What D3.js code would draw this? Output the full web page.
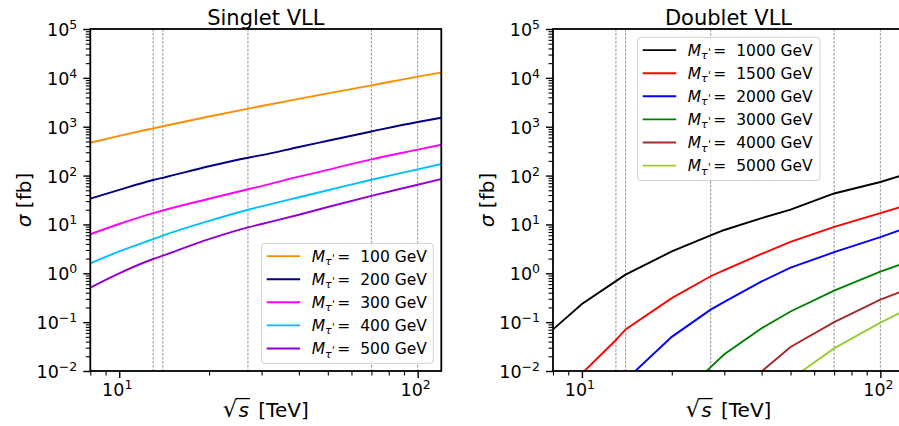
<!DOCTYPE html>
<html><head><meta charset="utf-8">
<script src="https://cdn.jsdelivr.net/npm/d3@7"></script>
<style>body{margin:0;background:#fff} svg{display:block} text{font-family:"DejaVu Sans",sans-serif;fill:#000}</style>
</head><body><svg id="c" width="899" height="426"></svg>
<script>
// ---- data ----
const sqrtS = [8, 10, 13, 14, 20, 27, 30, 40, 50, 70, 100, 120];   // TeV
const refLines = [13, 14, 27, 70, 100];                             // dashed verticals (TeV)

const singletLabels = ["100", "200", "300", "400", "500"];
const singletColors = ["#ff8c00", "#000080", "#ff00ff", "#00bfff", "#9400d3"];
const s100 = [470, 650, 927, 1023, 1622, 2340, 2656, 3720, 4810, 7030, 10600, 12800];
const s200 = [33.6, 51, 81, 90, 155, 232, 262, 385, 515, 800, 1250, 1530];
const s300 = [6.3, 10.2, 17, 19.3, 33.5, 52.4, 61, 95, 131, 215, 340, 428];
const s400 = [1.6, 2.8, 5.0, 5.9, 11.8, 20, 23.5, 36, 50, 82, 134, 173];
const s500 = [0.51, 1.0, 1.96, 2.3, 5.0, 8.7, 10.2, 15.8, 22.7, 38.5, 65, 85];

const doubletLabels = ["1000", "1500", "2000", "3000", "4000", "5000"];
const doubletColors = ["#000000", "#ff0000", "#0000ff", "#008000", "#a52a2a", "#9acd32"];
const d1000 = [0.071, 0.235, 0.69, 0.94, 2.8, 6.0, 7.7, 13.5, 20, 43, 74, 104];
const d1500 = [0.0025, 0.0089, 0.043, 0.071, 0.31, 0.87, 1.16, 2.5, 4.4, 8.9, 17, 24];
const d2000 = [0.0002, 0.0008, 0.004, 0.0065, 0.05, 0.18, 0.26, 0.68, 1.3, 2.7, 5.5, 8.2];
const d3000 = [0.00001, 0.00005, 0.0003, 0.0005, 0.002, 0.012, 0.022, 0.075, 0.165, 0.44, 1.08, 1.6];
const d4000 = [0.000001, 0.00001, 0.00005, 0.00007, 0.0003, 0.001, 0.0015, 0.0098, 0.031, 0.1, 0.29, 0.44];
const d5000 = [0.0000001, 0.000001, 0.00001, 0.00001, 0.00005, 0.0002, 0.0003, 0.0015, 0.0068, 0.029, 0.098, 0.17];

const xMajorTicks = [10, 100];
const xMajorExp = ["1", "2"];
const xMinorTicks = [8, 9, 20, 30, 40, 50, 60, 70, 80, 90];
const yMajorExp = [-2, -1, 0, 1, 2, 3, 4, 5];
const yMinorMult = [2, 3, 4, 5, 6, 7, 8, 9];

// ---- drawing ----
const svg = d3.select("#c");
const TOP = 29, BOT = 371, W = 351;

function panel(p) {
  const x = d3.scaleLog().domain([8, 120]).range([p.x0, p.x0 + W]);
  const y = d3.scaleLog().domain([1e-2, 1e5]).range([BOT, TOP]);
  const g = svg.append("g");
  const cid = "clip" + p.id;
  svg.append("clipPath").attr("id", cid).append("rect")
    .attr("x", p.x0).attr("y", TOP).attr("width", W).attr("height", BOT - TOP);

  g.append("g").selectAll("line").data(refLines).join("line")
    .attr("x1", d => x(d)).attr("x2", d => x(d)).attr("y1", TOP).attr("y2", BOT)
    .attr("stroke", "#8a8a8a").attr("stroke-width", 0.9).attr("stroke-dasharray", "2.6,1.4");

  const line = d3.line().x((d, i) => x(sqrtS[i])).y(d => y(d)).curve(p.curve);
  g.append("g").attr("clip-path", `url(#${cid})`).selectAll("path").data(p.series).join("path")
    .attr("d", d => line(d)).attr("fill", "none")
    .attr("stroke", (d, i) => p.colors[i]).attr("stroke-width", 1.9);

  // spines
  g.append("rect").attr("x", p.x0).attr("y", TOP).attr("width", W).attr("height", BOT - TOP)
    .attr("fill", "none").attr("stroke", "#000").attr("stroke-width", 1.8);

  // x axis ticks
  g.append("g").attr("transform", `translate(0,${BOT})`)
    .call(d3.axisBottom(x).tickValues(xMajorTicks).tickSize(7).tickFormat(""))
    .call(a => a.select(".domain").remove())
    .call(a => a.selectAll("line").attr("stroke-width", 1.4));
  g.append("g").attr("transform", `translate(0,${BOT})`)
    .call(d3.axisBottom(x).tickValues(xMinorTicks).tickSize(4.5).tickFormat(""))
    .call(a => a.select(".domain").remove())
    .call(a => a.selectAll("line").attr("stroke-width", 1.1));
  const xl = g.append("g").selectAll("text").data(xMajorTicks).join("text")
    .attr("x", d => x(d) - 2).attr("y", 395.5).attr("text-anchor", "middle").style("font-size", "17.5px");
  xl.append("tspan").text("10");
  xl.append("tspan").attr("dy", -7).style("font-size", "12.5px").text((d, i) => xMajorExp[i]);

  // y axis ticks
  const yMaj = yMajorExp.map(e => Math.pow(10, e));
  const yMin = [];
  yMajorExp.slice(0, -1).forEach(e => yMinorMult.forEach(m => yMin.push(m * Math.pow(10, e))));
  g.append("g").attr("transform", `translate(${p.x0},0)`)
    .call(d3.axisLeft(y).tickValues(yMaj).tickSize(7).tickFormat(""))
    .call(a => a.select(".domain").remove())
    .call(a => a.selectAll("line").attr("stroke-width", 1.4));
  g.append("g").attr("transform", `translate(${p.x0},0)`)
    .call(d3.axisLeft(y).tickValues(yMin).tickSize(4.5).tickFormat(""))
    .call(a => a.select(".domain").remove())
    .call(a => a.selectAll("line").attr("stroke-width", 1.1));
  const yl = g.append("g").selectAll("text").data(yMajorExp).join("text")
    .attr("x", p.x0 - 13).attr("y", d => y(Math.pow(10, d)) + 7).attr("text-anchor", "end")
    .style("font-size", "17.5px");
  yl.append("tspan").text("10");
  yl.append("tspan").attr("dy", -7).style("font-size", "12.5px").text(d => (d < 0 ? "\u2212" : "") + Math.abs(d));

  // title
  g.append("text").attr("x", p.x0 + W / 2).attr("y", 24.5).attr("text-anchor", "middle")
    .style("font-size", "21px").text(p.title);

  // y label
  const ylab = g.append("text").attr("transform", `translate(${p.x0 - 59},200) rotate(-90)`)
    .attr("text-anchor", "middle").style("font-size", "20px");
  ylab.append("tspan").style("font-style", "italic").text("\u03c3");
  ylab.append("tspan").text(" [fb]");

  // x label
  const cx = p.x0 + W / 2;
  const xlab = g.append("text").attr("x", cx).attr("y", 417).attr("text-anchor", "middle").style("font-size", "20px");
  xlab.append("tspan").style("font-size", "23px").text("\u221a");
  xlab.append("tspan").style("font-style", "italic").attr("dx", 1).text("s");
  xlab.append("tspan").attr("dx", 3).text(" [TeV]");
  const node = xlab.node();
  const e0 = node.getExtentOfChar(0), e1 = node.getExtentOfChar(1);
  g.append("line").attr("x1", e0.x + e0.width - 1.5).attr("x2", e1.x + e1.width + 1)
    .attr("y1", e0.y + 2.6).attr("y2", e0.y + 2.6).attr("stroke", "#000").attr("stroke-width", 1.3);

  // legend
  const L = p.legend;
  const lg = g.append("g");
  const rowH = 23.1;
  const n = p.labels.length;
  lg.append("rect").attr("x", L.x).attr("y", L.y).attr("width", L.w).attr("height", n * rowH + 4.5)
    .attr("rx", 3).attr("fill", "#fff").attr("fill-opacity", 0.85).attr("stroke", "#d0d0d0").attr("stroke-width", 1);
  const rows = lg.selectAll("g.row").data(p.labels).join("g").attr("class", "row")
    .attr("transform", (d, i) => `translate(${L.x},${L.y + 12.8 + i * rowH})`);
  rows.append("line").attr("x1", 5).attr("x2", 38.5).attr("y1", 0).attr("y2", 0)
    .attr("stroke", (d, i) => p.colors[i]).attr("stroke-width", 1.9);
  const t = rows.append("text").attr("x", 50).attr("y", 5.5).style("font-size", "15.5px");
  t.append("tspan").style("font-style", "italic").text("M");
  t.append("tspan").style("font-style", "italic").style("font-size", "11px").attr("dy", 3.5).text("\u03c4");
  t.append("tspan").style("font-size", "10px").attr("dx", 0.2).attr("dy", -3.5).text("'");
  t.append("tspan").attr("dy", 0).attr("dx", 2.5).text("=");
  rows.append("text").attr("x", 98.5).attr("y", 5.5).style("font-size", "15.5px").text(d => d + " GeV");
}

panel({
  id: "L", x0: 90.3, title: "Singlet VLL", curve: d3.curveMonotoneX,
  series: [s100, s200, s300, s400, s500], colors: singletColors, labels: singletLabels,
  legend: { x: 261.7, y: 243.3, w: 171.6 }
});
panel({
  id: "R", x0: 553, title: "Doublet VLL", curve: d3.curveLinear,
  series: [d1000, d1500, d2000, d3000, d4000, d5000], colors: doubletColors, labels: doubletLabels,
  legend: { x: 637.7, y: 37.3, w: 182.3 }
});
</script></body></html>
